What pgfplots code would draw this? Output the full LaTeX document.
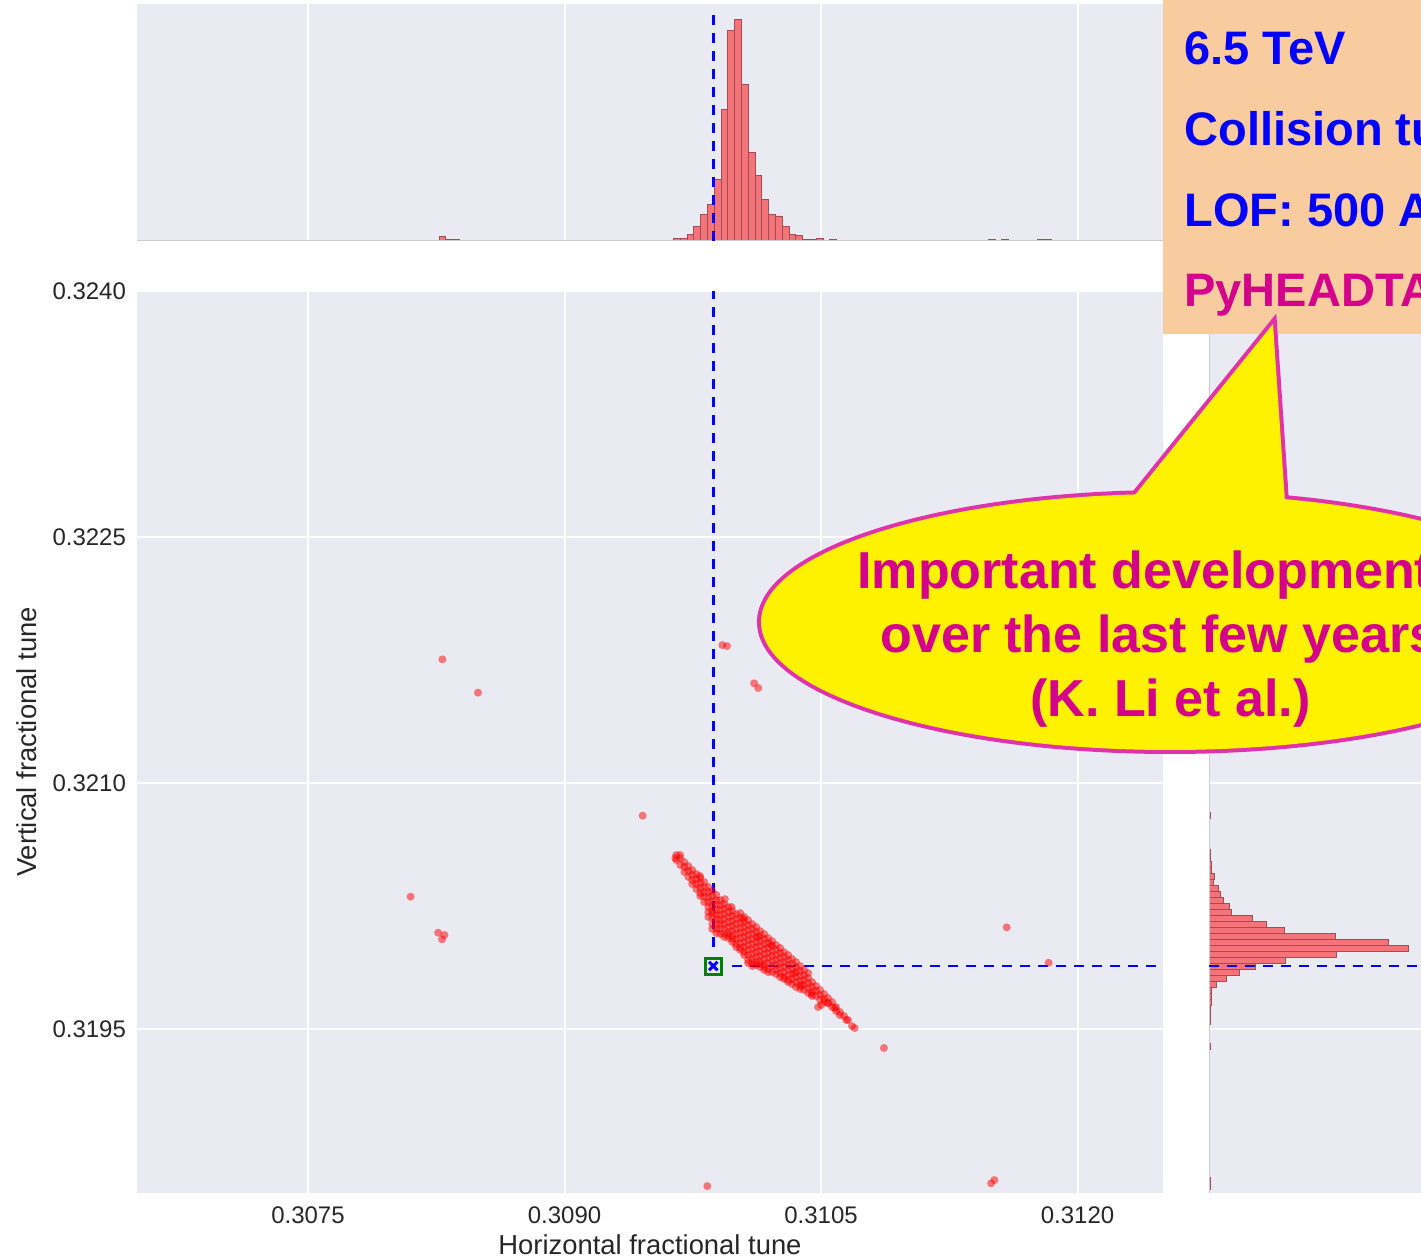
\documentclass[border=0pt]{standalone}
\usepackage{pgfplots}
\pgfplotsset{compat=1.18}
\usepackage{fontspec}
\setmainfont{Liberation Sans}
\definecolor{bgc}{RGB}{234,234,242}
\definecolor{labc}{RGB}{38,38,38}
\definecolor{histfill}{RGB}{244,117,121}
\definecolor{histedge}{RGB}{165,75,85}
\definecolor{orangebox}{RGB}{248,204,158}
\definecolor{calloutedge}{RGB}{224,50,170}
\definecolor{magtext}{RGB}{212,0,140}
\definecolor{markgreen}{RGB}{0,128,0}
\pgfplotsset{
  base/.style={scale only axis, axis background/.style={fill=bgc},
    axis line style={draw=none}, tick style={draw=none},
    major grid style={white, line width=1pt}, scaled ticks=false},
  dline/.style={blue, line width=1.4pt, dash pattern=on 5pt off 4pt},
  hist/.style={fill=histfill, draw=histedge, line width=0.4pt},
}
\begin{document}
\begin{tikzpicture}
\useasboundingbox (0,0) rectangle (710.5pt,630pt);
\begin{scope}
\clip (0,0) rectangle (710.5pt,630pt);
% top histogram
\begin{axis}[base, at={(68.5pt,509.65pt)}, anchor=south west,
  width=513pt, height=118.35pt,
  xmin=0.3065, xmax=0.3125, ymin=0, ymax=182,
  xtick={0.3075,0.3090,0.3105,0.3120}, xticklabels={}, ytick=\empty,
  xmajorgrids]
\addplot[hist, ybar interval] coordinates {
(0.309637,2) (0.309677,2) (0.309717,5) (0.309756,11) (0.309796,20) (0.309836,28)
(0.309876,47) (0.309916,101) (0.309955,162) (0.309995,170) (0.310035,120)
(0.310075,68) (0.310115,50) (0.310154,32) (0.310194,20) (0.310234,19)
(0.310274,11) (0.310314,5) (0.310353,4) (0.310393,1) (0.310433,1) (0.310473,2)
(0.310513,0) (0.310552,1) (0.310592,0)};
\addplot[hist, ybar interval] coordinates {(0.308268,3) (0.308306,1) (0.308347,1) (0.308387,0)};
\addplot[hist, ybar interval] coordinates {(0.311481,1) (0.311521,0)};
\addplot[hist, ybar interval] coordinates {(0.311557,1) (0.311597,0)};
\addplot[hist, ybar interval] coordinates {(0.311767,1) (0.311807,1) (0.311847,0)};
\draw[black!20, line width=0.8pt] (rel axis cs:0,0) -- (rel axis cs:1,0);
\addplot[dline] coordinates {(0.30987,0) (0.30987,177)};
\end{axis}
% right histogram
\begin{axis}[base, at={(604.5pt,33.5pt)}, anchor=south west,
  width=118pt, height=451pt,
  xmin=0, xmax=181.5, ymin=0.3185, ymax=0.3240,
  ytick={0.3195,0.3210,0.3225,0.3240}, yticklabels={}, xtick=\empty,
  ymajorgrids]
\addplot[hist, xbar interval] coordinates {
(0,0.319494) (1,0.319531) (1,0.319568) (1,0.319604) (2,0.319641) (2,0.319678)
(2,0.319715) (6,0.319752) (13,0.319788) (23,0.319825) (36,0.319862) (59,0.319899)
(98,0.319936) (153,0.319972) (138,0.320009) (97,0.320046) (58,0.320083)
(44,0.320120) (33,0.320156) (17,0.320193) (16,0.320230) (11,0.320267)
(9,0.320304) (7,0.320340) (3,0.320377) (4,0.320414) (2,0.320451) (2,0.320488)
(1,0.320524) (1,0.320561) (0,0.320598)};
\addplot[hist, xbar interval] coordinates {(1,0.320783) (0,0.320820)};
\addplot[hist, xbar interval] coordinates {(1,0.319378) (0,0.319415)};
\addplot[hist, xbar interval] coordinates {(1,0.318523) (1,0.318560) (0,0.318597)};
\draw[black!20, line width=0.8pt] (rel axis cs:0,0) -- (rel axis cs:0,1);
\addplot[dline] coordinates {(0,0.319884) (181.5,0.319884)};
\end{axis}
% main scatter
\begin{axis}[base, at={(68.5pt,33.5pt)}, anchor=south west,
  width=513pt, height=451pt,
  xmin=0.3065, xmax=0.3125, ymin=0.3185, ymax=0.3240,
  xtick={0.3075,0.3090,0.3105,0.3120}, xticklabels={0.3075,0.3090,0.3105,0.3120},
  ytick={0.3195,0.3210,0.3225,0.3240}, yticklabels={0.3195,0.3210,0.3225,0.3240},
  grid=major,
  ticklabel style={font=\fontsize{12}{14}\selectfont, text=labc},
  xticklabel style={yshift=-3.5pt}, yticklabel style={xshift=-2pt},
  xlabel={Horizontal fractional tune}, ylabel={Vertical fractional tune},
  label style={font=\fontsize{13.7}{16}\selectfont, text=labc},
  xlabel style={at={(axis description cs:0.5,-0.0577)}, anchor=center},
  ylabel style={at={(axis description cs:-0.1072,0.5)}, anchor=center}]
\addplot[red, only marks, mark=*, mark size=2pt, mark options={draw opacity=0, fill=red, fill opacity=0.5}] table {
x y
0.308286 0.321754
0.308494 0.321551
0.309457 0.320801
0.308100 0.320307
0.308261 0.320087
0.308298 0.320073
0.308284 0.320047
0.309923 0.321841
0.309950 0.321835
0.310109 0.321608
0.310133 0.321579
0.311586 0.320120
0.311831 0.319904
0.310868 0.319384
0.311495 0.318559
0.311514 0.318579
0.309835 0.318542
0.309676 0.320561
0.309648 0.320542
0.309792 0.320433
0.309938 0.320292
0.309977 0.320244
0.310045 0.320171
0.310133 0.320061
0.310210 0.320012
0.310347 0.319841
0.310385 0.319768
0.310444 0.319713
0.310502 0.319646
0.310541 0.319658
0.310580 0.319628
0.310610 0.319585
0.310648 0.319555
0.310697 0.319506
0.310483 0.319634
0.310028 0.320207
0.310051 0.320183
0.310074 0.320164
0.310098 0.320140
0.310121 0.320122
0.310144 0.320097
0.310168 0.320079
0.310191 0.320055
0.310214 0.320036
0.310238 0.320012
0.310261 0.319994
0.310284 0.319969
0.310308 0.319951
0.310331 0.319927
0.310354 0.319908
0.310378 0.319884
0.310401 0.319860
0.310425 0.319841
0.309654 0.320561
0.309654 0.320530
0.309677 0.320542
0.309677 0.320500
0.309701 0.320518
0.309701 0.320488
0.309701 0.320457
0.309724 0.320494
0.309724 0.320463
0.309724 0.320427
0.309747 0.320469
0.309747 0.320439
0.309747 0.320408
0.309747 0.320384
0.309771 0.320445
0.309771 0.320414
0.309771 0.320384
0.309771 0.320353
0.309794 0.320421
0.309794 0.320390
0.309794 0.320360
0.309794 0.320329
0.309794 0.320311
0.309817 0.320396
0.309817 0.320366
0.309817 0.320335
0.309817 0.320305
0.309817 0.320274
0.309841 0.320366
0.309841 0.320335
0.309841 0.320305
0.309841 0.320274
0.309841 0.320244
0.309841 0.320213
0.309841 0.320183
0.309864 0.320341
0.309864 0.320311
0.309864 0.320280
0.309864 0.320250
0.309864 0.320219
0.309864 0.320207
0.309864 0.320177
0.309864 0.320140
0.309864 0.320110
0.309888 0.320317
0.309888 0.320286
0.309888 0.320256
0.309888 0.320225
0.309888 0.320195
0.309888 0.320171
0.309888 0.320140
0.309888 0.320110
0.309888 0.320085
0.309911 0.320286
0.309911 0.320256
0.309911 0.320225
0.309911 0.320195
0.309911 0.320164
0.309911 0.320140
0.309911 0.320110
0.309911 0.320079
0.309934 0.320262
0.309934 0.320232
0.309934 0.320201
0.309934 0.320171
0.309934 0.320140
0.309934 0.320110
0.309934 0.320079
0.309934 0.320061
0.309958 0.320244
0.309958 0.320213
0.309958 0.320183
0.309958 0.320152
0.309958 0.320122
0.309958 0.320091
0.309958 0.320073
0.309958 0.320055
0.309981 0.320219
0.309981 0.320189
0.309981 0.320158
0.309981 0.320128
0.309981 0.320097
0.309981 0.320067
0.309981 0.320049
0.309981 0.320030
0.310004 0.320201
0.310004 0.320171
0.310004 0.320140
0.310004 0.320110
0.310004 0.320079
0.310004 0.320049
0.310004 0.320018
0.310004 0.320000
0.310028 0.320177
0.310028 0.320146
0.310028 0.320116
0.310028 0.320085
0.310028 0.320055
0.310028 0.320024
0.310028 0.319994
0.310028 0.319982
0.310051 0.320152
0.310051 0.320122
0.310051 0.320091
0.310051 0.320061
0.310051 0.320030
0.310051 0.320000
0.310051 0.319969
0.310051 0.319951
0.310074 0.320134
0.310074 0.320103
0.310074 0.320073
0.310074 0.320042
0.310074 0.320012
0.310074 0.319982
0.310074 0.319951
0.310074 0.319921
0.310074 0.319902
0.310098 0.320110
0.310098 0.320079
0.310098 0.320049
0.310098 0.320018
0.310098 0.319988
0.310098 0.319957
0.310098 0.319927
0.310098 0.319902
0.310098 0.319884
0.310121 0.320091
0.310121 0.320061
0.310121 0.320030
0.310121 0.320000
0.310121 0.319969
0.310121 0.319939
0.310121 0.319908
0.310121 0.319890
0.310144 0.320067
0.310144 0.320036
0.310144 0.320006
0.310144 0.319975
0.310144 0.319945
0.310144 0.319914
0.310144 0.319896
0.310144 0.319878
0.310168 0.320049
0.310168 0.320018
0.310168 0.319988
0.310168 0.319957
0.310168 0.319927
0.310168 0.319896
0.310168 0.319878
0.310168 0.319860
0.310191 0.320024
0.310191 0.319994
0.310191 0.319963
0.310191 0.319933
0.310191 0.319902
0.310191 0.319866
0.310191 0.319847
0.310214 0.320006
0.310214 0.319975
0.310214 0.319945
0.310214 0.319914
0.310214 0.319884
0.310214 0.319847
0.310238 0.319982
0.310238 0.319951
0.310238 0.319921
0.310238 0.319890
0.310238 0.319860
0.310238 0.319835
0.310261 0.319963
0.310261 0.319933
0.310261 0.319902
0.310261 0.319872
0.310261 0.319841
0.310261 0.319817
0.310284 0.319939
0.310284 0.319908
0.310284 0.319878
0.310284 0.319847
0.310284 0.319817
0.310284 0.319805
0.310308 0.319921
0.310308 0.319890
0.310308 0.319860
0.310308 0.319829
0.310308 0.319799
0.310308 0.319786
0.310331 0.319896
0.310331 0.319866
0.310331 0.319835
0.310331 0.319805
0.310331 0.319774
0.310354 0.319878
0.310354 0.319847
0.310354 0.319817
0.310354 0.319786
0.310354 0.319756
0.310378 0.319854
0.310378 0.319823
0.310378 0.319793
0.310378 0.319762
0.310378 0.319744
0.310401 0.319829
0.310401 0.319799
0.310401 0.319768
0.310401 0.319738
0.310425 0.319811
0.310425 0.319780
0.310425 0.319750
0.310425 0.319719
0.310448 0.319786
0.310448 0.319756
0.310448 0.319726
0.310448 0.319701
0.310471 0.319762
0.310471 0.319732
0.310471 0.319701
0.310495 0.319738
0.310495 0.319707
0.310495 0.319677
0.310518 0.319713
0.310518 0.319683
0.310518 0.319665
0.310541 0.319689
0.310541 0.319658
0.310565 0.319665
0.310565 0.319634
0.310588 0.319634
0.310588 0.319610
0.310611 0.319604
0.310635 0.319579
0.310658 0.319555
0.310681 0.319518
};
\addplot[dline] coordinates {(0.30987,0.320000) (0.30987,0.3240)};
\addplot[dline] coordinates {(0.309981,0.319884) (0.3125,0.319884)};
\addplot[only marks, mark=square, mark size=4pt, mark options={draw=markgreen, line width=1.5pt, fill=none}] coordinates {(0.30987,0.319884)};
\addplot[only marks, mark=x, mark size=3pt, mark options={draw=blue, line width=1.5pt}] coordinates {(0.30987,0.319884)};
\end{axis}
% annotation box
\fill[orangebox] (581.5pt,463pt) rectangle (720pt,640pt);
\begin{scope}[every node/.style={anchor=base west, inner sep=0pt, font=\fontsize{23.5}{28}\selectfont\bfseries}]
\node[text=blue] at (592pt,597.5pt) {6.5 TeV};
\node[text=blue] at (592pt,557pt) {Collision tune};
\node[text=blue] at (592pt,516.5pt) {LOF: 500 A};
\node[text=magtext] at (592pt,476.5pt) {PyHEADTAIL};
\end{scope}
% callout
\draw[calloutedge, line width=4pt] (585pt,319pt) ellipse [x radius=204.5pt, y radius=64pt];
\draw[calloutedge, line width=4pt, line join=miter] (567.5pt,382.5pt) -- (636.5pt,468pt) -- (642.5pt,379pt);
\fill[yellow] (585pt,319pt) ellipse [x radius=204.5pt, y radius=64pt];
\fill[yellow] (567.5pt,382.5pt) -- (636.5pt,468pt) -- (642.5pt,379pt) -- (605pt,370pt) -- cycle;
\begin{scope}[every node/.style={anchor=base west, inner sep=0pt, text=magtext, font=\fontsize{26}{30}\selectfont\bfseries}]
\node at (428.5pt,335.5pt) {Important developments};
\node at (440pt,303.5pt) {over the last few years};
\node at (515pt,271.5pt) {(K. Li et al.)};
\end{scope}
\end{scope}
\end{tikzpicture}
\end{document}
